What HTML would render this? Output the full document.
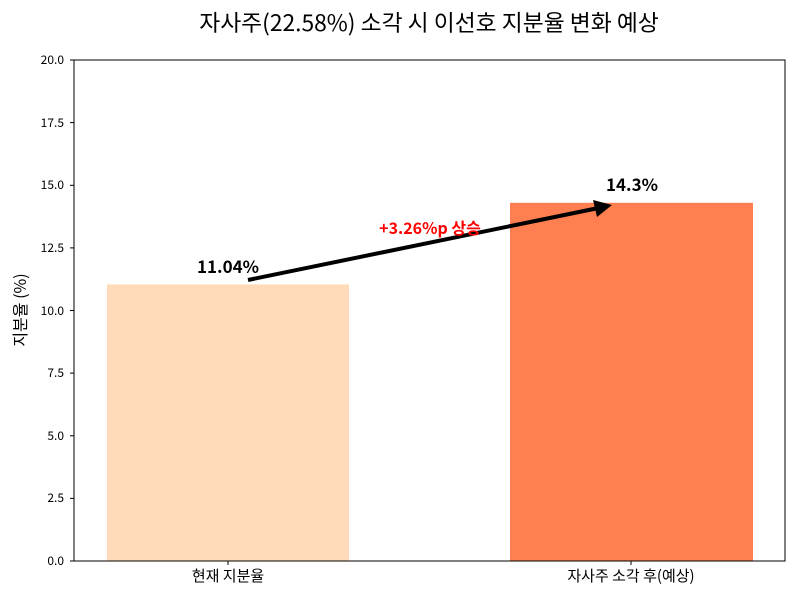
<!DOCTYPE html>
<html><head><meta charset="utf-8"><style>body{margin:0;background:#fff}</style></head><body>
<svg width="800" height="600" xmlns="http://www.w3.org/2000/svg" font-family="'Noto Sans CJK KR','Liberation Sans',sans-serif">
<rect width="800" height="600" fill="#fff"/>
<text x="429" y="31" font-size="22.8" text-anchor="middle">자사주(22.58%) 소각 시 이선호 지분율 변화 예상</text>
<rect x="107" y="284.4" width="242" height="276.6" fill="#FFDAB9"/>
<rect x="510" y="202.8" width="243" height="358.2" fill="#FF7F50"/>
<rect x="74" y="60" width="711" height="501" fill="none" stroke="#000" stroke-width="1"/>
<g font-size="12" text-anchor="end">
<text x="64" y="565">0.0</text><line x1="70" x2="74" y1="561" y2="561" stroke="#000"/>
<text x="64" y="502">2.5</text><line x1="70" x2="74" y1="498.4" y2="498.4" stroke="#000"/>
<text x="64" y="440">5.0</text><line x1="70" x2="74" y1="435.8" y2="435.8" stroke="#000"/>
<text x="64" y="377">7.5</text><line x1="70" x2="74" y1="373.1" y2="373.1" stroke="#000"/>
<text x="64" y="315">10.0</text><line x1="70" x2="74" y1="310.5" y2="310.5" stroke="#000"/>
<text x="64" y="252">12.5</text><line x1="70" x2="74" y1="247.9" y2="247.9" stroke="#000"/>
<text x="64" y="189">15.0</text><line x1="70" x2="74" y1="185.3" y2="185.3" stroke="#000"/>
<text x="64" y="127">17.5</text><line x1="70" x2="74" y1="122.6" y2="122.6" stroke="#000"/>
<text x="64" y="64">20.0</text><line x1="70" x2="74" y1="60" y2="60" stroke="#000"/>
</g>
<line x1="228" x2="228" y1="561" y2="565" stroke="#000"/>
<line x1="631" x2="631" y1="561" y2="565" stroke="#000"/>
<text x="228" y="581" font-size="15" text-anchor="middle">현재 지분율</text>
<text x="631" y="581" font-size="15" text-anchor="middle">자사주 소각 후(예상)</text>
<text transform="translate(26,310) rotate(-90)" font-size="16" text-anchor="middle">지분율 (%)</text>
<text x="228" y="273" font-size="17" font-weight="bold" text-anchor="middle">11.04%</text>
<text x="632" y="191" font-size="17" font-weight="bold" text-anchor="middle">14.3%</text>
<line x1="248" y1="280" x2="596" y2="208.5" stroke="#000" stroke-width="4"/>
<polygon points="612,205 593,200 597,217" fill="#000"/>
<text x="430" y="234" font-size="16" font-weight="bold" fill="#f00" text-anchor="middle">+3.26%p 상승</text>
</svg>
</body></html>
